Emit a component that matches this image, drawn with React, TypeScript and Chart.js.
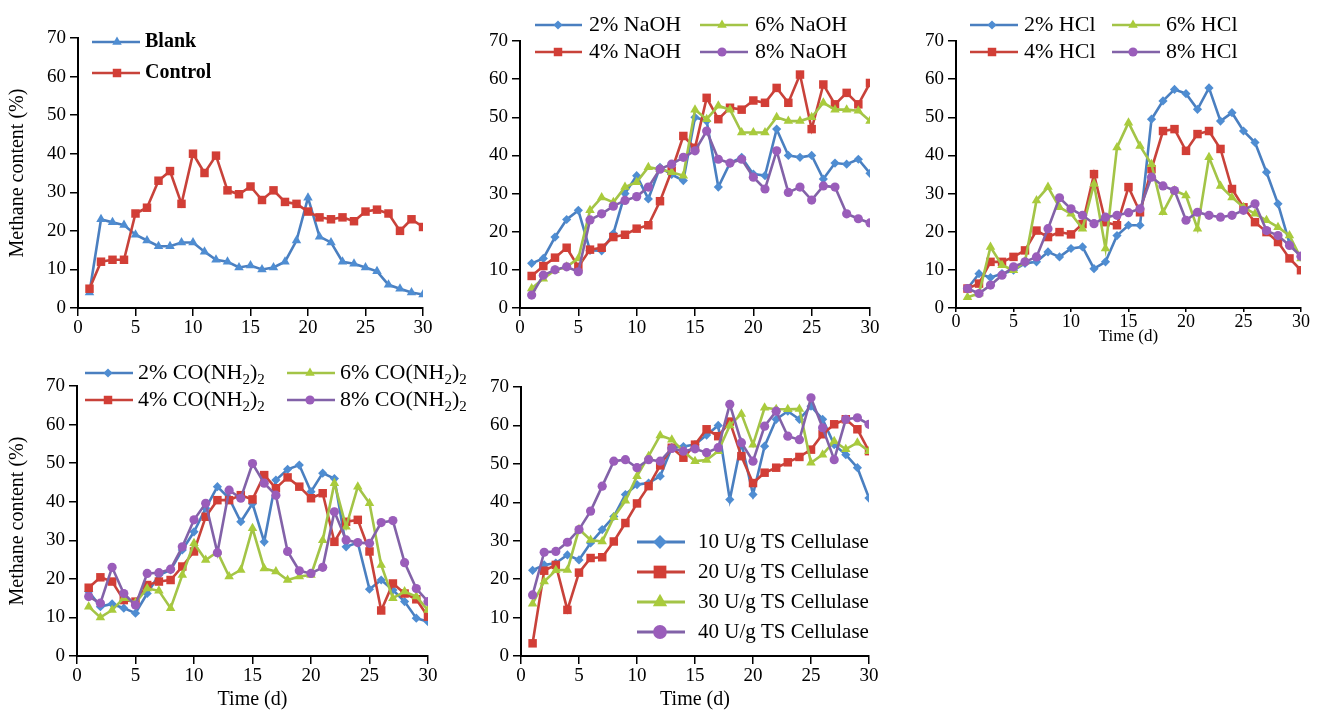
import React, { useEffect, useRef } from 'react';
import { Chart, registerables } from 'chart.js';

Chart.register(...registerables);

// ---------------- DATA ----------------
const days = [1, 2, 3, 4, 5, 6, 7, 8, 9, 10, 11, 12, 13, 14, 15, 16, 17, 18, 19, 20, 21, 22, 23, 24, 25, 26, 27, 28, 29, 30];
const xTicks = [0, 5, 10, 15, 20, 25, 30];
const yTicks = [0, 10, 20, 30, 40, 50, 60, 70];

const blank = [4, 23, 22.2, 21.5, 19, 17.5, 16, 16, 17, 17, 14.6, 12.5, 12, 10.5, 11, 10, 10.5, 12, 17.5, 28.6, 18.5, 17, 12, 11.5, 10.5, 9.5, 6, 5, 4, 3.5];
const control = [5, 12, 12.5, 12.5, 24.5, 26, 33, 35.5, 27, 40, 35, 39.5, 30.5, 29.5, 31.5, 28, 30.5, 27.5, 27, 25, 23.5, 23, 23.5, 22.5, 25, 25.5, 24.5, 20, 23, 21];

const naoh2 = [11.7, 13, 18.6, 23.2, 25.6, 15.1, 15, 19.5, 30, 34.7, 28.6, 36.9, 35, 33.4, 50, 49, 31.7, 38, 39.5, 35.1, 34.7, 46.9, 40, 39.5, 40, 33.8, 38, 37.7, 39, 35.3];
const naoh4 = [8.4, 11, 13.2, 15.8, 10.8, 15.3, 15.8, 18.6, 19.2, 20.8, 21.7, 28, 36, 45.1, 42, 55.1, 49.5, 52.5, 52, 54.4, 53.8, 57.7, 53.8, 61.2, 46.9, 58.6, 53.4, 56.4, 53.4, 59];
const naoh6 = [5.1, 7.7, 9.9, 10.8, 13, 25.6, 29, 27.7, 31.7, 33, 36.9, 36.4, 35.6, 34.7, 52, 49.5, 53, 52, 46, 46, 46, 50, 49, 49, 50, 53.8, 52, 52, 51.7, 49];
const naoh8 = [3.4, 8.6, 10, 10.8, 9.5, 23.1, 24.7, 26.7, 28.2, 29.2, 31.7, 36.4, 37.7, 39.5, 41.2, 46.4, 39, 38, 39, 34.3, 31.2, 41.2, 30.3, 31.7, 28.3, 32, 31.7, 24.7, 23.4, 22.3];

const hcl2 = [5.1, 9, 8, 9, 9.9, 11.7, 12.1, 14.7, 13.4, 15.6, 16, 10.3, 12.1, 19, 21.7, 21.7, 49.5, 54.3, 57.3, 56.2, 52.1, 57.7, 49, 51.2, 46.4, 43.4, 35.6, 27.3, 17, 13.4];
const hcl4 = [5.1, 6.4, 12.1, 12.1, 13.4, 15.1, 20.3, 18.6, 19.9, 19.3, 22, 35.1, 22.5, 21.7, 31.7, 25.1, 36.4, 46.4, 46.9, 41.2, 45.6, 46.4, 41.7, 31.2, 26.4, 22.5, 19.9, 17.3, 13, 9.9];
const hcl6 = [2.8, 3.8, 16, 11.2, 9.9, 12.1, 28.2, 31.7, 26.4, 24.7, 20.8, 32.5, 15.6, 42.1, 48.6, 42.5, 37.7, 25.1, 30.8, 29.5, 20.8, 39.5, 32, 29, 26.4, 24.7, 23, 21.2, 19, 13];
const hcl8 = [5.1, 3.8, 6, 8.6, 10.8, 12.1, 13.4, 20.8, 28.9, 26, 24.3, 22.1, 23.8, 24.3, 25, 26, 34.3, 32, 30.8, 23, 25.1, 24.3, 23.8, 24.3, 25.6, 27.3, 20.3, 19, 16.4, 13.6];

const urea2 = [16.7, 12.8, 13.5, 12.4, 11.1, 16.2, 21, 22.3, 27.5, 32.2, 38.3, 43.9, 40.9, 34.8, 39.5, 29.6, 45.6, 48.4, 49.5, 42.6, 47.4, 46, 28.3, 29.4, 17.3, 19.7, 17.1, 14.1, 9.8, 8.9];
const urea4 = [17.7, 20.4, 19.3, 14.5, 14.1, 18.4, 19.3, 19.7, 23.2, 27.1, 36.1, 40.4, 40.4, 41.7, 40.6, 46.9, 43.5, 46.3, 43.9, 40.9, 42.2, 29.6, 34.8, 35.3, 27.1, 11.8, 18.8, 16.2, 14.7, 10.2];
const urea6 = [12.8, 10, 11.9, 15, 13.8, 17.5, 16.9, 12.4, 21, 29.2, 24.9, 27, 20.6, 22.3, 33.1, 22.7, 21.9, 19.7, 20.6, 21, 30, 44.8, 33.5, 43.9, 39.6, 23.6, 15, 16.7, 15.4, 11.9];
const urea8 = [15.4, 13.7, 23, 16.2, 13.2, 21.4, 21.6, 22.5, 28.3, 35.3, 39.6, 26.8, 43, 40.9, 49.9, 44.8, 41.7, 27.1, 22.1, 21.4, 23, 37.4, 30.1, 29.4, 29.2, 34.6, 35.1, 24.2, 17.5, 14.1];

const cell10 = [22.3, 23.7, 24.2, 26.3, 25, 29.4, 32.9, 36.3, 42, 44.6, 45, 46.8, 54.2, 54.5, 55, 57.5, 60, 40.7, 55.5, 42, 54.6, 61.6, 63.7, 61.6, 65, 61.6, 55, 52.4, 49, 41.1];
const cell20 = [3.3, 22.2, 23.7, 12, 21.7, 25.5, 25.7, 29.8, 34.6, 39.7, 44.2, 49.6, 54.2, 51.6, 55, 59, 57.2, 61, 52, 45, 47.7, 49, 50.4, 51.8, 53.7, 57.7, 60.3, 61.6, 59, 53.3];
const cell30 = [13.6, 19.4, 22.3, 22.4, 33, 30.2, 29.8, 36.1, 40.4, 46.8, 52, 57.4, 56.3, 53.3, 50.7, 51, 53.3, 60, 63, 55, 64.6, 64.2, 64.2, 64.3, 50.3, 52.4, 55.9, 53.8, 55.5, 53.3];
const cell40 = [15.9, 27, 27.2, 29.6, 32.9, 37.7, 44.2, 50.7, 51.1, 49, 51.1, 50.7, 54, 53.3, 53.9, 52.9, 54.2, 65.5, 55.5, 50.7, 59.8, 63.7, 57.2, 56.3, 67.2, 59.4, 51.1, 61.6, 62, 60.3];

const yTitle = 'Methane content (%)';
const xTitle = 'Time (d)';

// ---------------- STYLE ----------------
const FONT = "'Liberation Serif', 'Times New Roman', serif";
const C = {
  blue: { line: '#4A7FC0', fill: '#4F8DD2' },
  red: { line: '#C8423A', fill: '#D23E36' },
  green: { line: '#A3C447', fill: '#A9CB3C' },
  purple: { line: '#8262A8', fill: '#9A5DBA' },
};

type Seg = { t: string; sub?: boolean };
type Series = { label: Seg[]; values: number[]; color: { line: string; fill: string }; style: string; r: number };
type LegendPos = { x0: number; x1: number; mx: number; y: number; tx: number };
type Spec = {
  canvas: { left: number; top: number; w: number; h: number };
  plot: { l: number; t: number; r: number; b: number };
  yTitle: boolean;
  xTitle: boolean;
  xTickLen: number;
  xTickPad: number;
  xTickSize: number;
  xTitleSize: number;
  xTitlePad: number;
  series: Series[];
  legend: LegendPos[];
  legendFont: { size: number; weight: string };
  legendMarkerScale: number;
  legendLineWidth: number;
};

const urea = (p: string): Seg[] => [{ t: p + ' CO(NH' }, { t: '2', sub: true }, { t: ')' }, { t: '2', sub: true }];

function drawMarker(ctx: CanvasRenderingContext2D, style: string, x: number, y: number, r: number, fill: string) {
  ctx.fillStyle = fill;
  ctx.beginPath();
  if (style === 'circle') {
    ctx.arc(x, y, r, 0, Math.PI * 2);
  } else if (style === 'rect') {
    const s = Math.SQRT1_2 * r;
    ctx.rect(x - s, y - s, 2 * s, 2 * s);
  } else if (style === 'rectRot') {
    ctx.moveTo(x, y - r);
    ctx.lineTo(x + r, y);
    ctx.lineTo(x, y + r);
    ctx.lineTo(x - r, y);
    ctx.closePath();
  } else if (style === 'triangle') {
    ctx.moveTo(x, y - r);
    ctx.lineTo(x + r * 0.866, y + r * 0.5);
    ctx.lineTo(x - r * 0.866, y + r * 0.5);
    ctx.closePath();
  }
  ctx.fill();
}

function legendPlugin(spec: Spec) {
  return {
    id: 'customLegend',
    afterDraw(chart: any) {
      const ctx: CanvasRenderingContext2D = chart.ctx;
      const ox = spec.canvas.left;
      const oy = spec.canvas.top;
      ctx.save();
      spec.series.forEach((s, i) => {
        const p = spec.legend[i];
        const y = p.y - oy;
        ctx.strokeStyle = s.color.line;
        ctx.lineWidth = spec.legendLineWidth;
        ctx.beginPath();
        ctx.moveTo(p.x0 - ox, y);
        ctx.lineTo(p.x1 - ox, y);
        ctx.stroke();
        drawMarker(ctx, s.style, p.mx - ox, y, s.r * spec.legendMarkerScale, s.color.fill);
        let x = p.tx - ox;
        ctx.fillStyle = '#000';
        ctx.textBaseline = 'middle';
        ctx.textAlign = 'left';
        for (const seg of s.label) {
          const size = seg.sub ? Math.round(spec.legendFont.size * 0.68) : spec.legendFont.size;
          ctx.font = `${seg.sub ? 'normal' : spec.legendFont.weight} ${size}px ${FONT}`;
          ctx.fillText(seg.t, x, y + (seg.sub ? spec.legendFont.size * 0.3 : 0));
          x += ctx.measureText(seg.t).width;
        }
      });
      ctx.restore();
    },
  };
}

function Panel({ spec }: { spec: Spec }) {
  const ref = useRef<HTMLCanvasElement>(null);
  useEffect(() => {
    const { canvas, plot } = spec;
    const yW = plot.l - canvas.left;
    const xH = canvas.top + canvas.h - plot.b;
    const padTop = plot.t - canvas.top;
    const padRight = canvas.left + canvas.w - plot.r;
    const n = spec.series.length;
    const chart = new Chart(ref.current as HTMLCanvasElement, {
      type: 'line',
      data: {
        datasets: spec.series.map((s, i) => ({
          label: s.label.map((g) => g.t).join(''),
          data: days.map((d, k) => ({ x: d, y: s.values[k] })),
          borderColor: s.color.line,
          backgroundColor: s.color.fill,
          pointBackgroundColor: s.color.fill,
          pointBorderColor: s.color.fill,
          pointBorderWidth: 0,
          pointStyle: s.style as any,
          pointRadius: s.r,
          borderWidth: 2.6,
          tension: 0,
          order: n - i,
        })),
      },
      options: {
        responsive: false,
        animation: false,
        devicePixelRatio: 1,
        layout: { padding: { top: padTop, right: padRight, left: 0, bottom: 0 } },
        plugins: { legend: { display: false }, tooltip: { enabled: false }, title: { display: false } },
        scales: {
          x: {
            type: 'linear',
            min: 0,
            max: 30,
            afterBuildTicks: (axis: any) => {
              axis.ticks = xTicks.map((v) => ({ value: v }));
            },
            afterFit: (axis: any) => {
              axis.height = xH;
            },
            border: { display: true, color: '#000', width: 2 },
            grid: { display: true, drawOnChartArea: false, drawTicks: true, tickLength: spec.xTickLen, color: '#000', lineWidth: 1.5 },
            ticks: { color: '#000', font: { family: FONT, size: spec.xTickSize }, padding: spec.xTickPad, maxRotation: 0, autoSkip: false },
            title: {
              display: spec.xTitle,
              text: xTitle,
              color: '#000',
              font: { family: FONT, size: spec.xTitleSize },
              padding: { top: 0, bottom: spec.xTitlePad },
            },
          },
          y: {
            type: 'linear',
            min: 0,
            max: 70,
            afterBuildTicks: (axis: any) => {
              axis.ticks = yTicks.map((v) => ({ value: v }));
            },
            afterFit: (axis: any) => {
              axis.width = yW;
            },
            border: { display: true, color: '#000', width: 2 },
            grid: { display: true, drawOnChartArea: false, drawTicks: true, tickLength: 8, color: '#000', lineWidth: 1.5 },
            ticks: { color: '#000', font: { family: FONT, size: 19 }, padding: 4 },
            title: {
              display: spec.yTitle,
              text: yTitle,
              color: '#000',
              font: { family: FONT, size: 20 },
              padding: { top: 6, bottom: 0 },
            },
          },
        },
      },
      plugins: [legendPlugin(spec)],
    } as any);
    return () => chart.destroy();
  }, [spec]);
  return (
    <canvas
      ref={ref}
      width={spec.canvas.w}
      height={spec.canvas.h}
      style={{ position: 'absolute', left: spec.canvas.left, top: spec.canvas.top, width: spec.canvas.w, height: spec.canvas.h }}
    />
  );
}

const small = 4.6;

const specs: Spec[] = [
  {
    canvas: { left: 0, top: 0, w: 450, h: 345 },
    plot: { l: 78, t: 38, r: 423, b: 308 },
    yTitle: true,
    xTitle: false,
    xTickLen: 8,
    xTickPad: 1,
    xTickSize: 19,
    xTitleSize: 20,
    xTitlePad: 6,
    series: [
      { label: [{ t: 'Blank' }], values: blank, color: C.blue, style: 'triangle', r: 5.5 },
      { label: [{ t: 'Control' }], values: control, color: C.red, style: 'rect', r: 6 },
    ],
    legend: [
      { x0: 92, x1: 140, mx: 117, y: 42, tx: 145 },
      { x0: 92, x1: 140, mx: 117, y: 73, tx: 145 },
    ],
    legendFont: { size: 20, weight: 'bold' },
    legendMarkerScale: 1,
    legendLineWidth: 2.6,
  },
  {
    canvas: { left: 450, top: 0, w: 440, h: 345 },
    plot: { l: 520, t: 41, r: 870, b: 308 },
    yTitle: false,
    xTitle: false,
    xTickLen: 8,
    xTickPad: 1,
    xTickSize: 19,
    xTitleSize: 20,
    xTitlePad: 6,
    series: [
      { label: [{ t: '2% NaOH' }], values: naoh2, color: C.blue, style: 'rectRot', r: small },
      { label: [{ t: '4% NaOH' }], values: naoh4, color: C.red, style: 'rect', r: 6 },
      { label: [{ t: '6% NaOH' }], values: naoh6, color: C.green, style: 'triangle', r: 5.5 },
      { label: [{ t: '8% NaOH' }], values: naoh8, color: C.purple, style: 'circle', r: small },
    ],
    legend: [
      { x0: 535, x1: 582, mx: 558, y: 25, tx: 589 },
      { x0: 535, x1: 582, mx: 558, y: 52, tx: 589 },
      { x0: 700, x1: 748, mx: 722, y: 25, tx: 755 },
      { x0: 700, x1: 748, mx: 722, y: 52, tx: 755 },
    ],
    legendFont: { size: 22, weight: 'normal' },
    legendMarkerScale: 1,
    legendLineWidth: 2.6,
  },
  {
    canvas: { left: 890, top: 0, w: 431, h: 350 },
    plot: { l: 956, t: 41, r: 1301, b: 308 },
    yTitle: false,
    xTitle: true,
    xTickLen: 4,
    xTickPad: -1,
    xTickSize: 18,
    xTitleSize: 17,
    xTitlePad: 3,
    series: [
      { label: [{ t: '2% HCl' }], values: hcl2, color: C.blue, style: 'rectRot', r: small },
      { label: [{ t: '4% HCl' }], values: hcl4, color: C.red, style: 'rect', r: 6 },
      { label: [{ t: '6% HCl' }], values: hcl6, color: C.green, style: 'triangle', r: 5.5 },
      { label: [{ t: '8% HCl' }], values: hcl8, color: C.purple, style: 'circle', r: small },
    ],
    legend: [
      { x0: 970, x1: 1018, mx: 992, y: 25, tx: 1024 },
      { x0: 970, x1: 1018, mx: 992, y: 52, tx: 1024 },
      { x0: 1112, x1: 1160, mx: 1133, y: 25, tx: 1166 },
      { x0: 1112, x1: 1160, mx: 1133, y: 52, tx: 1166 },
    ],
    legendFont: { size: 22, weight: 'normal' },
    legendMarkerScale: 1,
    legendLineWidth: 2.6,
  },
  {
    canvas: { left: 0, top: 345, w: 500, h: 373 },
    plot: { l: 77, t: 386, r: 428, b: 656 },
    yTitle: true,
    xTitle: true,
    xTickLen: 8,
    xTickPad: 1,
    xTickSize: 19,
    xTitleSize: 20,
    xTitlePad: 6,
    series: [
      { label: urea('2%'), values: urea2, color: C.blue, style: 'rectRot', r: small },
      { label: urea('4%'), values: urea4, color: C.red, style: 'rect', r: 6 },
      { label: urea('6%'), values: urea6, color: C.green, style: 'triangle', r: 5.5 },
      { label: urea('8%'), values: urea8, color: C.purple, style: 'circle', r: small },
    ],
    legend: [
      { x0: 85, x1: 133, mx: 108, y: 373, tx: 138 },
      { x0: 85, x1: 133, mx: 108, y: 400, tx: 138 },
      { x0: 287, x1: 335, mx: 310, y: 373, tx: 340 },
      { x0: 287, x1: 335, mx: 310, y: 400, tx: 340 },
    ],
    legendFont: { size: 22, weight: 'normal' },
    legendMarkerScale: 1,
    legendLineWidth: 2.6,
  },
  {
    canvas: { left: 450, top: 345, w: 440, h: 373 },
    plot: { l: 521, t: 387, r: 869, b: 656 },
    yTitle: false,
    xTitle: true,
    xTickLen: 8,
    xTickPad: 1,
    xTickSize: 19,
    xTitleSize: 20,
    xTitlePad: 6,
    series: [
      { label: [{ t: '10 U/g TS Cellulase' }], values: cell10, color: C.blue, style: 'rectRot', r: small },
      { label: [{ t: '20 U/g TS Cellulase' }], values: cell20, color: C.red, style: 'rect', r: 6 },
      { label: [{ t: '30 U/g TS Cellulase' }], values: cell30, color: C.green, style: 'triangle', r: 5.5 },
      { label: [{ t: '40 U/g TS Cellulase' }], values: cell40, color: C.purple, style: 'circle', r: small },
    ],
    legend: [
      { x0: 637, x1: 685, mx: 660, y: 542, tx: 698 },
      { x0: 637, x1: 685, mx: 660, y: 572, tx: 698 },
      { x0: 637, x1: 685, mx: 660, y: 602, tx: 698 },
      { x0: 637, x1: 685, mx: 660, y: 632, tx: 698 },
    ],
    legendFont: { size: 21, weight: 'normal' },
    legendMarkerScale: 1.5,
    legendLineWidth: 3,
  },
];

export default function App() {
  return (
    <div style={{ position: 'absolute', left: 0, top: 0, width: 1321, height: 718, background: '#fff', overflow: 'hidden' }}>
      {specs.map((s, i) => (
        <Panel key={i} spec={s} />
      ))}
    </div>
  );
}
